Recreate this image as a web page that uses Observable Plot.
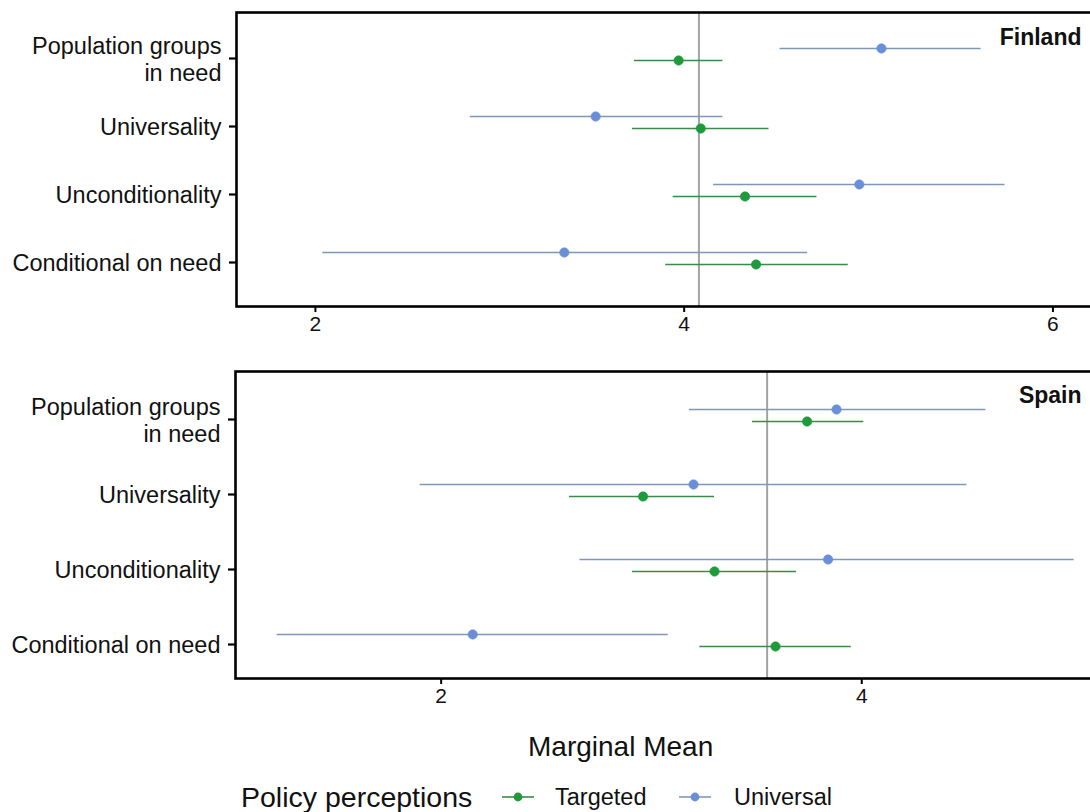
<!DOCTYPE html>
<html>
<head>
<meta charset="utf-8">
<script src="https://cdn.jsdelivr.net/npm/d3@7"></script>
<script src="https://cdn.jsdelivr.net/npm/@observablehq/plot@0.6"></script>
<style>
  html, body { margin: 0; padding: 0; background: white; }
  #page { position: relative; width: 1090px; height: 812px; overflow: hidden;
          font-family: "Liberation Sans", Arial, sans-serif; color: #111; }
  .panel { position: absolute; left: 0; }
  .txt { position: absolute; white-space: nowrap; line-height: 1; }
  .glyph { position: absolute; }
</style>
</head>
<body>
<div id="page">
  <div id="finland" class="panel" style="top:0px"></div>
  <div id="spain" class="panel" style="top:360px"></div>
  <div class="txt" style="left:528px; top:733px; font-size:28px;">Marginal Mean</div>
  <div class="txt" style="left:241px; top:783px; font-size:28.5px;">Policy perceptions</div>
  <svg class="glyph" style="left:501px; top:789px" width="34" height="16">
    <line x1="1" x2="33" y1="8" y2="8" stroke="#3b8a48" stroke-width="1.6"></line>
    <circle cx="17" cy="8" r="4.4" fill="#1f9a3a"></circle>
  </svg>
  <div class="txt" style="left:555px; top:786px; font-size:23.5px;">Targeted</div>
  <svg class="glyph" style="left:678px; top:789px" width="34" height="16">
    <line x1="1" x2="33" y1="8" y2="8" stroke="#8196b8" stroke-width="1.6"></line>
    <circle cx="17" cy="8" r="4.4" fill="#6a8fd8"></circle>
  </svg>
  <div class="txt" style="left:734px; top:786px; font-size:23.5px;">Universal</div>
</div>
<script>
// Policy dimensions, listed top to bottom
const categories = ["Population groups in need", "Universality", "Unconditionality", "Conditional on need"];
const categoryLabels = ["Population groups\nin need", "Universality", "Unconditionality", "Conditional on need"];

// Finland: marginal means with 95% confidence intervals
const finTargetedMean  = [3.97, 4.09, 4.33, 4.39];
const finTargetedLow   = [3.73, 3.72, 3.94, 3.90];
const finTargetedHigh  = [4.21, 4.46, 4.72, 4.89];
const finUniversalMean = [5.07, 3.52, 4.95, 3.35];
const finUniversalLow  = [4.52, 2.84, 4.16, 2.04];
const finUniversalHigh = [5.61, 4.21, 5.74, 4.67];
const finOverallMean = 4.08;

// Spain: marginal means with 95% confidence intervals
const espTargetedMean  = [3.74, 2.96, 3.30, 3.59];
const espTargetedLow   = [3.48, 2.61, 2.91, 3.23];
const espTargetedHigh  = [4.01, 3.30, 3.69, 3.95];
const espUniversalMean = [3.88, 3.20, 3.84, 2.15];
const espUniversalLow  = [3.18, 1.90, 2.66, 1.22];
const espUniversalHigh = [4.59, 4.50, 5.01, 3.08];
const espOverallMean = 3.55;

const xTicks = [2, 4, 6];

const colors = {
  Targeted:  {line: "#3b8a48", dot: "#1f9a3a"},
  Universal: {line: "#8196b8", dot: "#6a8fd8"}
};

function rowsOf(mean, low, high) {
  return categories.map((c, i) => ({category: c, mean: mean[i], low: low[i], high: high[i]}));
}

function panel({country, targeted, universal, overall, xDomain, yRange, height, marginTop, marginBottom, marginLeft, countryDy}) {
  const series = [
    {name: "Universal", rows: universal, dy: -10},
    {name: "Targeted", rows: targeted, dy: 2}
  ];
  const marks = [Plot.ruleX([overall], {x: d => d, stroke: "#a3a3a3", strokeWidth: 2})];
  for (const s of series) {
    marks.push(Plot.ruleY(s.rows, {y: "category", x1: "low", x2: "high", dy: s.dy,
      stroke: colors[s.name].line, strokeWidth: 1.6}));
    marks.push(Plot.dot(s.rows, {y: "category", x: "mean", dy: s.dy, r: 4.7,
      fill: colors[s.name].dot, stroke: colors[s.name].dot, strokeWidth: 0.6}));
  }
  marks.push(
    Plot.frame({stroke: "#000", strokeWidth: 2.6}),
    Plot.axisX({ticks: xTicks.filter(t => t >= xDomain[0] && t <= xDomain[1]), tickSize: 6, strokeWidth: 2,
      stroke: "#000", fontSize: 21, tickPadding: 4, fill: "#111", label: null, tickFormat: d => String(d)}),
    Plot.axisY({tickSize: 7, strokeWidth: 2.2, stroke: "#000", fontSize: 23.5, tickPadding: 8, fill: "#111",
      lineHeight: 1.15, label: null,
      tickFormat: d => categoryLabels[categories.indexOf(d)]}),
    Plot.text([country], {frameAnchor: "top-right", lineAnchor: "middle", dx: -12, dy: countryDy, text: d => d,
      fontWeight: "bold", fontSize: 23, fill: "#111"})
  );
  return Plot.plot({
    width: 1090,
    height,
    marginLeft,
    marginRight: -3,
    marginTop,
    marginBottom,
    style: {fontFamily: "Liberation Sans, Arial, sans-serif", background: "white", overflow: "hidden"},
    x: {domain: xDomain},
    y: {type: "point", domain: categories, range: yRange, padding: 0},
    marks
  });
}

document.getElementById("finland").append(panel({
  country: "Finland",
  targeted: rowsOf(finTargetedMean, finTargetedLow, finTargetedHigh),
  universal: rowsOf(finUniversalMean, finUniversalLow, finUniversalHigh),
  overall: finOverallMean,
  xDomain: [1.572, 6.22],
  yRange: [58, 262],
  height: 346, marginTop: 12, marginBottom: 40, marginLeft: 236,
  countryDy: 25
}));

document.getElementById("spain").append(panel({
  country: "Spain",
  targeted: rowsOf(espTargetedMean, espTargetedLow, espTargetedHigh),
  universal: rowsOf(espUniversalMean, espUniversalLow, espUniversalHigh),
  overall: espOverallMean,
  xDomain: [1.022, 5.102],
  yRange: [59, 284],
  height: 358, marginTop: 11, marginBottom: 40, marginLeft: 235,
  countryDy: 24
}));
</script>
</body>
</html>
